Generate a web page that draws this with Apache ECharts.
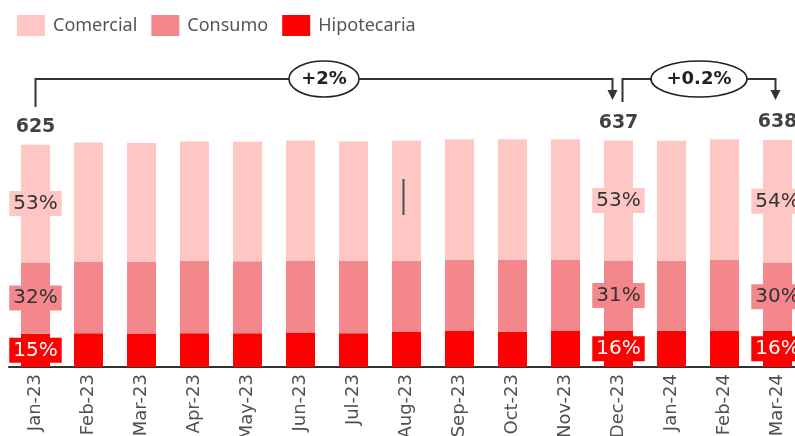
<!DOCTYPE html>
<html>
<head>
<meta charset="utf-8">
<script src="https://cdn.jsdelivr.net/npm/echarts@6/dist/echarts.min.js"></script>
<style>
html,body{margin:0;padding:0;background:#fff;}
#chart{width:795px;height:436px;}
</style>
</head>
<body>
<div id="chart"></div>
<script>
const categories = ['Jan-23','Feb-23','Mar-23','Apr-23','May-23','Jun-23','Jul-23','Aug-23','Sep-23','Oct-23','Nov-23','Dec-23','Jan-24','Feb-24','Mar-24'];
const totals = [625, 631, 630, 634, 633, 637, 634, 636, 640, 640, 640, 637, 636, 640, 638];
const comercialShare = [53, 53, 53, 53, 53, 53, 53, 53, 53, 53, 53, 53, 53, 53, 54];
const consumoShare = [32, 32, 32, 32, 32, 32, 32, 31.5, 31, 31.5, 31, 31, 31, 31, 30];
const hipotecariaShare = [15, 15, 15, 15, 15, 15, 15, 15.5, 16, 15.5, 16, 16, 16, 16, 16];
const labelledIdx = [0, 11, 14];
const changes = [{from: 0, to: 11, text: '+2%'}, {from: 11, to: 14, text: '+0.2%'}];

const colors = {Comercial: '#FEC7C3', Consumo: '#F3878B', Hipotecaria: '#FF0000'};

function seriesData(share, labelColor, bg) {
  return share.map((s, i) => {
    const v = totals[i] * s / 100;
    if (labelledIdx.includes(i)) {
      return {value: v, label: {show: true, formatter: Math.round(s) + '%', color: labelColor, backgroundColor: bg}};
    }
    return v;
  });
}

const chart = echarts.init(document.getElementById('chart'), null, {renderer: 'canvas'});
const pctLabel = {
  show: false, position: 'inside', fontFamily: 'DejaVu Sans', fontSize: 20,
  padding: [2, 4], lineHeight: 21
};
const option = {
  animation: false,
  legend: {
    data: ['Comercial', 'Consumo', 'Hipotecaria'],
    left: 12, top: 10, itemWidth: 28, itemHeight: 21, itemGap: 14,
    icon: 'rect',
    textStyle: {fontFamily: 'Noto Sans', fontSize: 18, color: '#555', padding: [0, 0, 0, 3]}
  },
  grid: {left: 9, width: 795, top: 118, bottom: 69, outerBoundsMode: 'none', containLabel: false},
  xAxis: {
    type: 'category', data: categories,
    axisLine: {lineStyle: {color: '#333', width: 2}},
    axisTick: {show: false},
    axisLabel: {rotate: 90, fontFamily: 'DejaVu Sans', fontSize: 18, color: '#505050', margin: 7}
  },
  yAxis: {type: 'value', min: 0, max: 700, show: false, splitLine: {show: false}},
  series: [
    {name: 'Hipotecaria', type: 'bar', stack: 'a', barWidth: 29,
     itemStyle: {color: colors.Hipotecaria},
     label: Object.assign({}, pctLabel),
     data: seriesData(hipotecariaShare, '#fff', colors.Hipotecaria)},
    {name: 'Consumo', type: 'bar', stack: 'a', barWidth: 29,
     itemStyle: {color: colors.Consumo},
     label: Object.assign({}, pctLabel),
     data: seriesData(consumoShare, '#333', colors.Consumo)},
    {name: 'Comercial', type: 'bar', stack: 'a', barWidth: 29,
     itemStyle: {color: colors.Comercial},
     label: Object.assign({}, pctLabel),
     data: seriesData(comercialShare, '#333', colors.Comercial)},
    {name: 'Total', type: 'scatter', symbolSize: 0, silent: true, clip: false,
     label: {show: false},
     data: totals.map((t, i) => labelledIdx.includes(i)
       ? {value: t, label: {show: true, position: 'top', distance: 8, formatter: String(t),
           fontFamily: 'DejaVu Sans', fontWeight: 'bold', fontSize: 19, color: '#111'}}
       : t)}
  ]
};
chart.setOption(option);

// Annotation brackets derived from the chart scales
const px = i => chart.convertToPixel({seriesIndex: 3}, [i, totals[i]]);
const lineY = 79;
const graphics = [];
const stroke = {stroke: '#333', lineWidth: 2, fill: null};
changes.forEach((c, k) => {
  const x0 = px(c.from)[0] + (k === 0 ? 0 : 4);
  const x1 = px(c.to)[0] - (k === 0 ? 6 : 2);
  const y0 = k === 0 ? 107 : 102;
  const tip = 100;
  graphics.push({type: 'polyline', shape: {points: [[x0, y0], [x0, lineY], [x1, lineY], [x1, tip - 8]]}, style: stroke, z: 10});
  graphics.push({type: 'polygon', shape: {points: [[x1 - 5, tip - 10], [x1 + 5, tip - 10], [x1, tip]]}, style: {fill: '#333'}, z: 10});
  const cx = (x0 + x1) / 2;
  const rx = k === 0 ? 35 : 48;
  graphics.push({type: 'ellipse', shape: {cx: cx, cy: lineY, rx: rx, ry: 18}, style: {fill: '#fff', stroke: '#222', lineWidth: 1.6}, z: 11});
  graphics.push({type: 'text', x: cx, y: lineY, style: {text: c.text, fill: '#222', font: 'bold 18px "DejaVu Sans"', align: 'center', verticalAlign: 'middle'}, z: 12});
});
// small vertical cursor mark inside the Aug-23 bar
const aug = px(7);
graphics.push({type: 'line', shape: {x1: aug[0] - 3, y1: 179, x2: aug[0] - 3, y2: 215}, style: {stroke: '#3d5656', lineWidth: 2}, z: 12});
chart.setOption({graphic: graphics});
</script>
</body>
</html>
